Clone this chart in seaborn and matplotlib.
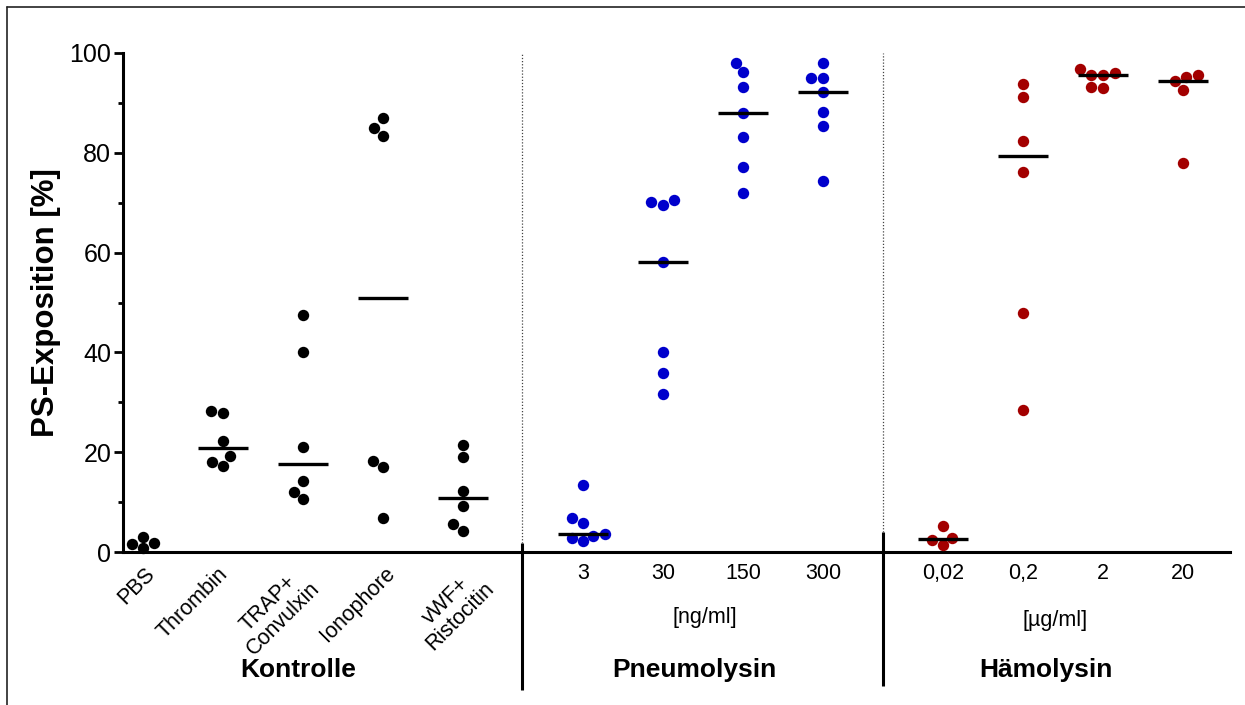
import numpy as np
import pandas as pd
import matplotlib
matplotlib.use("Agg")
import matplotlib.pyplot as plt
import matplotlib.transforms as mtransforms
from matplotlib.lines import Line2D
from matplotlib.ticker import MultipleLocator
import seaborn as sns

# ---------------- data ----------------
groups = ["Kontrolle", "Pneumolysin", "Hämolysin"]
group_colors = ["#000000", "#0000CC", "#A30000"]
kontrolle_labels = ["PBS", "Thrombin", "TRAP+\nConvulxin", "Ionophore", "vWF+\nRistocitin"]
pneumolysin_labels = ["3", "30", "150", "300"]
haemolysin_labels = ["0,02", "0,2", "2", "20"]
pneumolysin_unit = "[ng/ml]"
haemolysin_unit = "[µg/ml]"
y_label = "PS-Exposition [%]"

pbs = [1.8, 0.8, 3.1, 1.7]
thrombin = [27.8, 28.3, 22.3, 19.2, 17.3, 18.0]
trap_convulxin = [47.5, 40.1, 21.1, 14.2, 12.0, 10.6]
ionophore = [86.9, 84.9, 83.4, 18.3, 17.0, 6.8]
vwf_ristocetin = [21.4, 19.1, 12.3, 9.3, 5.6, 4.3]

pneu_3 = [13.4, 6.9, 5.9, 3.7, 3.3, 2.9, 2.2]
pneu_30 = [70.5, 70.1, 69.6, 58.1, 40.1, 35.9, 31.7]
pneu_150 = [97.9, 96.1, 93.1, 88.0, 83.2, 77.2, 71.9]
pneu_300 = [97.9, 94.9, 94.9, 92.2, 88.2, 85.4, 74.3]

haem_002 = [5.3, 2.8, 2.5, 1.4]
haem_02 = [93.8, 91.1, 82.4, 76.2, 47.8, 28.4]
haem_2 = [96.7, 95.9, 95.6, 95.6, 93.2, 92.9]
haem_20 = [95.5, 95.2, 94.3, 92.6, 77.9]

group_series = [
    [pbs, thrombin, trap_convulxin, ionophore, vwf_ristocetin],
    [pneu_3, pneu_30, pneu_150, pneu_300],
    [haem_002, haem_02, haem_2, haem_20],
]
group_labels = [kontrolle_labels, pneumolysin_labels, haemolysin_labels]

# ---------------- layout (positions on x) ----------------
group_starts = [0.0, 5.5, 10.0]
rows = []
tick_pos, tick_lab = [], []
for g, start, series, labs in zip(groups, group_starts, group_series, group_labels):
    for i, (vals, lab) in enumerate(zip(series, labs)):
        p = start + i
        tick_pos.append(p)
        tick_lab.append(lab)
        for v in vals:
            rows.append({"pos": p, "value": v, "group": g})
df = pd.DataFrame(rows)

# ---------------- style ----------------
sns.set_style("ticks")
plt.rcParams["font.family"] = ["Liberation Sans", "DejaVu Sans"]
for k in ["text.color", "axes.labelcolor", "xtick.color", "ytick.color", "axes.edgecolor"]:
    plt.rcParams[k] = "black"

fig = plt.figure(figsize=(12.45, 7.05), dpi=100)
ax = fig.add_axes([123 / 1245, (705 - 552) / 705, (1230 - 123) / 1245, (552 - 53) / 705])

for g, col in zip(groups, group_colors):
    sub = df[df["group"] == g]
    sns.swarmplot(data=sub, x="pos", y="value", native_scale=True, orient="x",
                  color=col, size=8.2, ax=ax, zorder=3)
for coll in ax.collections:
    coll.set_clip_on(False)

# median lines (the PBS control shows no median bar in the original)
med = df[df["pos"] != tick_pos[0]].groupby("pos")["value"].median()
ax.hlines(med.values, med.index - 0.31, med.index + 0.31, colors="black",
          linewidth=2.4, zorder=5)

ax.set_xlim(-0.25, 13.59)
ax.set_ylim(0, 100)
ax.set_xlabel("")
ax.set_ylabel(y_label, fontsize=22.5, fontweight="bold")
ax.yaxis.set_label_coords(-0.056, 0.5)

ax.set_yticks([0, 20, 40, 60, 80, 100])
ax.yaxis.set_minor_locator(MultipleLocator(10))
ax.tick_params(axis="y", which="major", labelsize=18, length=6.5, width=2, pad=2, color="black")
ax.tick_params(axis="y", which="minor", length=3.6, width=2, color="black")

ax.set_xticks(tick_pos)
ax.set_xticklabels(tick_lab)
ax.tick_params(axis="x", which="both", length=0, labelsize=15.5, pad=8)
xl = ax.get_xticklabels()
n_k = len(kontrolle_labels)
label_shift_px = [1, -6, -9, 1, 6]
for i, t in enumerate(xl):
    if i < n_k:
        t.set_rotation(45)
        t.set_ha("right")
        t.set_va("top")
        t.set_rotation_mode("anchor")
        t.set_multialignment("center")
        t.set_linespacing(1.0)
        t.set_transform(t.get_transform() + mtransforms.ScaledTranslation(
            label_shift_px[i] / 100, 0, fig.dpi_scale_trans))
    else:
        t.set_ha("center")

for side in ["top", "right"]:
    ax.spines[side].set_visible(False)
for side in ["left", "bottom"]:
    ax.spines[side].set_linewidth(2.2)
    ax.spines[side].set_color("black")

# separators
trans = mtransforms.blended_transform_factory(ax.transData, ax.transAxes)
sep_x = [4.74, 9.25]
sep_top = [0.018, 0.04]
sep_bottom = [-0.277, -0.269]
for x, t0, b0 in zip(sep_x, sep_top, sep_bottom):
    ax.plot([x, x], [b0, t0], transform=trans, color="black", lw=2.2, clip_on=False,
            solid_capstyle="butt")
    ax.plot([x, x], [t0, 1.0], transform=trans, color="#444444", lw=0.9,
            linestyle=(0, (1, 1.5)), clip_on=False)

# group labels and units
ax.text(1.94, -0.236, groups[0], transform=trans, ha="center", va="center",
        fontsize=19, fontweight="bold")
ax.text(6.89, -0.236, groups[1], transform=trans, ha="center", va="center",
        fontsize=19, fontweight="bold")
ax.text(11.29, -0.236, groups[2], transform=trans, ha="center", va="center",
        fontsize=19, fontweight="bold")
ax.text(7.03, -0.132, pneumolysin_unit, transform=trans, ha="center", va="center", fontsize=15.5)
ax.text(11.4, -0.138, haemolysin_unit, transform=trans, ha="center", va="center", fontsize=15.5)

# figure frame (top and left edges)
fy = 1 - 7 / 705
fx = 7 / 1245
fig.add_artist(Line2D([fx, 1.0], [fy, fy], transform=fig.transFigure, color="#222222", lw=1.2))
fig.add_artist(Line2D([fx, fx], [0.0, fy], transform=fig.transFigure, color="#222222", lw=1.2))

fig.savefig("out.png", dpi=100)
